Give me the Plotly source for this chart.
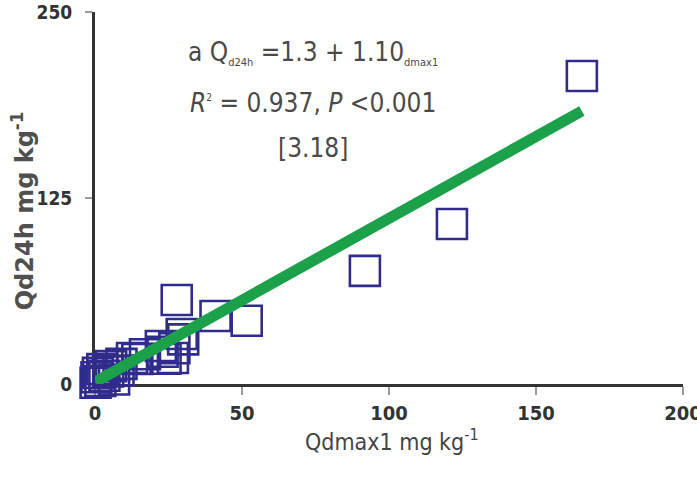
import numpy as np
import plotly.graph_objects as go

# Paired uptake values (mg kg-1)
qdmax1 = [0.2, 0.5, 1.0, 1.8, 2.5, 3.2, 4.5, 5.5, 6.5, 8.0, 9.0,
          12.6, 14.4, 17.0, 22.4, 23.0, 24.0, 26.5, 27.0, 29.5, 30.0,
          27.8, 41.0, 51.6, 91.8, 121.4, 165.6]
qd24h = [0.8, 4.5, 7.5, 2.0, 10.0, 5.5, 8.5, 12.0, 3.0, 9.0, 13.5,
         17.5, 16.8, 20.0, 25.5, 21.7, 17.0, 17.5, 24.0, 33.6, 30.0,
         56.5, 45.7, 42.5, 76.0, 107.5, 207.0]

# Linear fit reported on the chart
intercept = 1.3
slope = 1.10
r_squared = 0.937
eq_no = "3.18"

x_ticks = [0, 50, 100, 150, 200]
y_ticks = [0, 125, 250]

fit_x = np.array([min(qdmax1), max(qdmax1)])
fit_y = intercept + slope * fit_x

NARROW = "DejaVu Sans Condensed, Liberation Sans Narrow, sans-serif"
TXT = "#4a4a4a"

fig = go.Figure()
fig.add_trace(go.Scatter(
    x=qdmax1, y=qd24h, mode="markers", cliponaxis=False,
    marker=dict(symbol="square-open", size=30,
                color="#2f2c8c", line=dict(width=2.6, color="#2f2c8c")),
    showlegend=False))
fig.add_trace(go.Scatter(
    x=fit_x, y=fit_y, mode="lines", cliponaxis=False,
    line=dict(color="#1aa14a", width=11), showlegend=False))

fig.update_layout(
    width=697, height=490,
    margin=dict(l=95, r=14, t=12, b=106, autoexpand=False),
    paper_bgcolor="white", plot_bgcolor="white",
    xaxis=dict(range=[0, 200], tickvals=x_ticks, automargin=False,
               showgrid=False, zeroline=False, layer="below traces",
               showline=True, linecolor="#333333", linewidth=3,
               ticks="outside", ticklen=8, tickwidth=1.5, tickcolor="#9a9a9a",
               ticklabelstandoff=1, ticklabeloverflow="allow",
               tickfont=dict(family=NARROW, size=20, color="#333333",
                             weight="bold")),
    yaxis=dict(range=[0, 250], tickvals=y_ticks, automargin=False,
               showgrid=False, zeroline=False, layer="below traces",
               showline=True, linecolor="#333333", linewidth=3,
               ticks="outside", ticklen=7, tickwidth=1.5, tickcolor="#9a9a9a",
               ticklabelstandoff=9, ticklabeloverflow="allow",
               tickfont=dict(family=NARROW, size=19, color="#333333",
                             weight="bold")),
    xaxis2=dict(overlaying="x", side="top", range=[0, 200], automargin=False,
                showline=True, linecolor="#bdbdbd", linewidth=1,
                showticklabels=False, ticks="", showgrid=False,
                zeroline=False),
)

annotations = [
    dict(text="Qd24h mg kg<sup>-1</sup>", x=-0.122, y=0.465, textangle=-90,
         font=dict(family="DejaVu Sans", size=24, color="#505050",
                   weight="bold")),
    dict(text="Qdmax1 mg kg<sup>-1</sup>", x=0.505, y=-0.15,
         font=dict(family=NARROW, size=23, color="#444444")),
    dict(text=("a Q<sub><span style='font-size:11px'>d24h</span></sub> =%s + %.2f"
               "<sub><span style='font-size:11px'>dmax1</span></sub>")
              % (intercept, slope),
         x=0.371, y=0.89, font=dict(family=NARROW, size=26, color=TXT)),
    dict(text="<i>R</i><sup><span style='font-size:10px'>2</span></sup> = %.3f, "
              "<i>P</i> &lt;0.001" % r_squared,
         x=0.371, y=0.755, font=dict(family=NARROW, size=26, color=TXT)),
    dict(text="[%s]" % eq_no, x=0.371, y=0.634,
         font=dict(family=NARROW, size=26, color=TXT)),
]
for a in annotations:
    a.update(xref="paper", yref="paper", showarrow=False,
             xanchor="center", yanchor="middle")
fig.update_layout(annotations=annotations)

fig.write_html("out.html")
